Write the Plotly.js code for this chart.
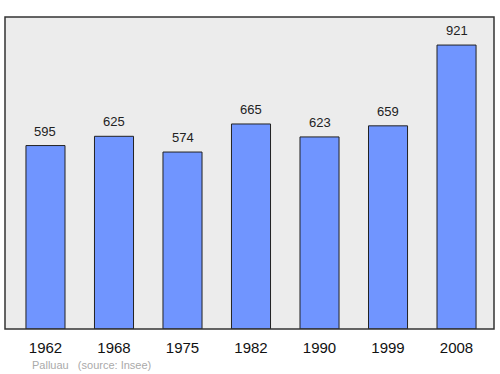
<!DOCTYPE html>
<html><head><meta charset="utf-8">
<script src="https://cdn.plot.ly/plotly-3.0.1.min.js"></script>
<style>html,body{margin:0;padding:0;background:#fff}#c{width:500px;height:374px}</style>
</head><body><div id="c"></div>
<script>
const years = ["1962","1968","1975","1982","1990","1999","2008"];
const population = [595, 625, 574, 665, 623, 659, 921];
const footerPlace = "Palluau";
const footerSource = "(source: Insee)";

const idx = years.map((_, i) => i);
const trace = {
  type: "bar",
  x: idx,
  y: population,
  width: 0.57,
  marker: {color: "#7095ff", line: {color: "#222", width: 1}},
  hoverinfo: "none"
};
const annotations = population.map((v, i) => ({
  x: i, y: v, xref: "x", yref: "y", text: String(v), showarrow: false,
  yanchor: "bottom", yshift: 5, font: {family: "Liberation Sans, Arial, sans-serif", size: 13, color: "#222"}
}));
annotations.push({
  xref: "paper", yref: "paper", x: 0.052, y: -0.115, xanchor: "left", yanchor: "middle",
  showarrow: false, text: footerPlace + "   " + footerSource,
  font: {family: "Liberation Sans, Arial, sans-serif", size: 11, color: "#aaa"}
});
const layout = {
  width: 500, height: 374,
  margin: {l: 5, r: 6, t: 17, b: 45, pad: 0},
  paper_bgcolor: "#fff", plot_bgcolor: "#ececec",
  showlegend: false,
  xaxis: {range: [-0.591, 6.547], tickvals: idx, ticktext: years, showgrid: false, zeroline: false,
          ticks: "outside", ticklen: 5, tickcolor: "rgba(0,0,0,0)",
          tickfont: {family: "Liberation Sans, Arial, sans-serif", size: 15, color: "#111"}, fixedrange: true},
  yaxis: {range: [0, 1012], showgrid: false, zeroline: false, showticklabels: false, ticks: "", fixedrange: true},
  shapes: [{type: "rect", xref: "paper", yref: "paper", x0: 0, x1: 1, y0: 0, y1: 1,
            line: {color: "#333", width: 1.5}}],
  annotations: annotations
};
Plotly.newPlot("c", [trace], layout, {displayModeBar: false, staticPlot: true});
</script></body></html>
